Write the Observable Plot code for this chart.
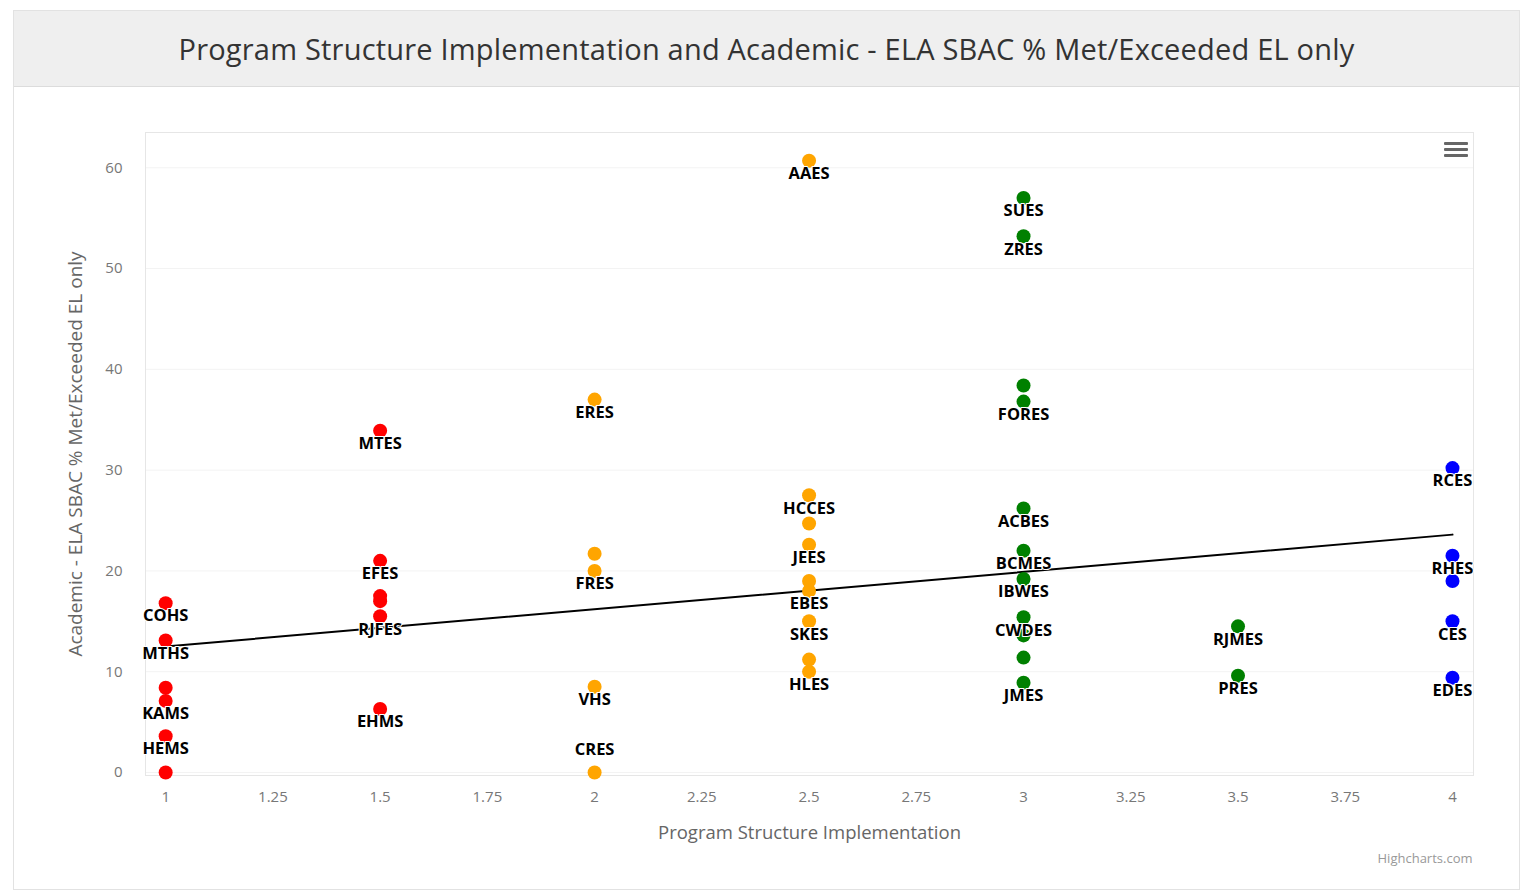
<!DOCTYPE html>
<html><head><meta charset="utf-8">
<script src="https://cdn.jsdelivr.net/npm/d3@7"></script>
<script src="https://cdn.jsdelivr.net/npm/@observablehq/plot@0.6"></script>
<style>
body{margin:0;background:#fff;font-family:"Open Sans",sans-serif;}
#wrap{position:absolute;left:13px;top:10px;width:1507px;height:880px;border:1px solid #e2e2e2;box-sizing:border-box;background:#fff;}
#title{height:76px;background:#efefef;border-bottom:1px solid #dcdcdc;box-sizing:border-box;text-align:center;font-size:29px;line-height:75px;color:#333;letter-spacing:0.2px;}
#chart{position:absolute;left:0;top:76px;}
#menu{position:absolute;left:1430px;top:131px;}
#menu div{width:24px;height:3px;background:#666;margin-bottom:3px;border-radius:1px;}
</style></head>
<body>
<div id="wrap">
  <div id="title"></div>
  <div id="chart"></div>
  <div id="menu"><div></div><div></div><div></div></div>
</div>
<script>
const titleText = "Program Structure Implementation and Academic - ELA SBAC % Met/Exceeded EL only";
const xTitle = "Program Structure Implementation";
const yTitle = "Academic - ELA SBAC % Met/Exceeded EL only";
const credit = "Highcharts.com";

const xTicks = [1, 1.25, 1.5, 1.75, 2, 2.25, 2.5, 2.75, 3, 3.25, 3.5, 3.75, 4];
const yTicks = [0, 10, 20, 30, 40, 50, 60];

const schools = ["COHS","MTHS","","KAMS","HEMS","",
  "MTES","EFES","","","RJFES","EHMS",
  "ERES","","FRES","VHS","CRES",
  "AAES","HCCES","","JEES","","EBES","SKES","","HLES",
  "SUES","ZRES","","FORES","ACBES","BCMES","IBWES","CWDES","","","JMES",
  "RJMES","PRES",
  "RCES","RHES","","CES","EDES"];
const psi = [1,1,1,1,1,1,
  1.5,1.5,1.5,1.5,1.5,1.5,
  2,2,2,2,2,
  2.5,2.5,2.5,2.5,2.5,2.5,2.5,2.5,2.5,
  3,3,3,3,3,3,3,3,3,3,3,
  3.5,3.5,
  4,4,4,4,4];
const ela = [16.8,13.1,8.4,7.1,3.6,0,
  33.9,21.0,17.5,17.0,15.5,6.3,
  37.0,21.7,20.0,8.5,0,
  60.7,27.5,24.7,22.6,19.0,18.0,15.0,11.2,10.0,
  57.0,53.2,38.4,36.8,26.2,22.0,19.2,15.4,13.6,11.4,8.9,
  14.5,9.6,
  30.2,21.5,19.0,15.0,9.4];
const tier = ["low","low","low","low","low","low",
  "low","low","low","low","low","low",
  "mid","mid","mid","mid","mid",
  "mid","mid","mid","mid","mid","mid","mid","mid","mid",
  "high","high","high","high","high","high","high","high","high","high","high",
  "high","high",
  "top","top","top","top","top"];
const tierNames = ["low","mid","high","top"];
const tierColors = ["#ff0000","#ffa500","#008000","#0000ff"];

const trendX = [1, 4];
const trendY = [12.5, 23.6];

document.getElementById("title").textContent = titleText;

const pts = schools.map((s, i) => ({name: s, x: psi[i], y: ela[i], tier: tier[i]}));
const trend = trendX.map((x, i) => ({x, y: trendY[i]}));

const labelStyle = {fill: "#000", stroke: "#fff", strokeWidth: 2, fontWeight: "bold", fontSize: 16.5};

const chart = Plot.plot({
  width: 1505,
  height: 802,
  marginLeft: 131,
  marginRight: 46,
  marginTop: 45,
  marginBottom: 114,
  style: {fontFamily: "Open Sans", fontSize: "15px", color: "#777", background: "transparent"},
  x: {domain: [0.953, 4.049], ticks: xTicks, tickFormat: d => String(d), tickSize: 0, tickPadding: 16, label: null},
  y: {domain: [-0.3, 63.5], ticks: yTicks, tickSize: 0, tickPadding: 23, label: null},
  color: {domain: tierNames, range: tierColors},
  marks: [
    Plot.gridY(yTicks, {stroke: "#f3f3f3", strokeOpacity: 1}),
    Plot.frame({stroke: "#e6e6e6"}),
    Plot.line(trend, {x: "x", y: "y", stroke: "#000", strokeWidth: 2}),
    Plot.dot(pts, {x: "x", y: "y", fill: "tier", r: 7}),
    Plot.text(pts.filter(d => d.name && d.y > 1), {x: "x", y: "y", text: "name", dy: 13, ...labelStyle}),
    Plot.text(pts.filter(d => d.name && d.y <= 1), {x: "x", y: "y", text: "name", dy: -23, ...labelStyle}),
    Plot.text([xTitle], {frameAnchor: "bottom", dy: 63, text: d => d, fontSize: 18.5, fill: "#666"}),
    Plot.text([yTitle], {frameAnchor: "left", dx: -70, rotate: -90, textAnchor: "middle", text: d => d, fontSize: 19, fill: "#666"}),
    Plot.text([credit], {frameAnchor: "bottom-right", dx: -1, dy: 87, textAnchor: "end", text: d => d, fontSize: 13, fill: "#999"})
  ]
});
document.getElementById("chart").appendChild(chart);
</script>
</body></html>
